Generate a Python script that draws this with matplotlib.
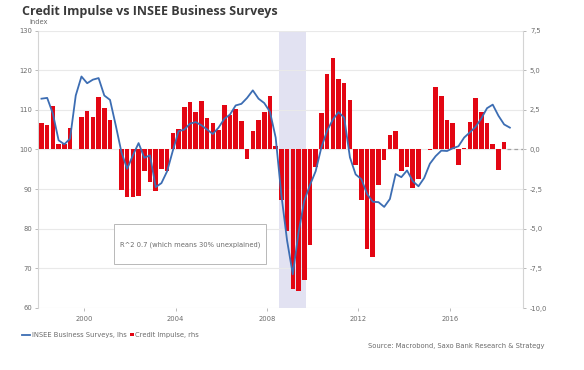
import numpy as np
import pandas as pd
import matplotlib
matplotlib.use("Agg")
import matplotlib.pyplot as plt
from matplotlib.lines import Line2D
from matplotlib.patches import Rectangle

# ---------------- data ----------------
bar_start = "1998Q1"
credit_impulse = [
    1.68, 1.52, 2.72, 0.32, 0.32, 1.37, 0.03, 2.04, 2.42, 2.02, 3.31, 2.59, 1.83, 0.05,
    -2.55, -3.01, -3.01, -2.95, -1.39, -2.06, -2.65, -1.26, -1.33,
    1.05, 1.31, 2.67, 3.01, 2.38, 3.03, 1.98, 1.66, 1.20, 2.82, 2.15, 2.55, 1.77,
    -0.61,
    1.14, 1.83, 2.36, 3.39, 0.23,
    -3.22, -5.16, -8.78, -8.90, -8.21, -6.04, -1.10,
    2.29, 4.78, 5.79, 4.46, 4.19, 3.14,
    -1.01, -3.20, -6.27, -6.80, -2.23, -0.65,
    0.92, 1.16,
    -1.35, -1.12, -2.42, -1.85,
    0.00, -0.05,
    3.94, 3.35, 1.83, 1.66,
    -0.96, 0.10,
    1.73, 3.24, 2.36, 1.66, 0.32,
    -1.28, 0.50,
]
insee = [
    112.8, 113.0, 109.0, 102.3, 101.3, 102.7, 113.6, 118.4, 116.7, 117.6,
    118.0, 113.6, 112.5, 106.1, 99.3, 95.1, 98.5, 101.6, 97.9, 98.5,
    90.5, 91.5, 94.5, 99.7, 104.6, 105.0, 106.5, 106.9, 106.1, 105.0,
    103.9, 105.5, 107.7, 108.8, 111.1, 111.5, 113.0, 114.9, 112.8, 111.7,
    109.5, 103.0, 88.5, 77.0, 68.5, 79.0, 87.0, 91.0, 94.5, 100.5,
    104.7, 107.5, 109.4, 108.0, 98.0, 93.7, 92.5, 88.8, 86.8, 86.7,
    85.5, 87.5, 93.8, 93.0, 94.7, 92.0, 90.7, 92.8, 96.4, 98.3,
    99.7, 99.6, 100.3, 100.8, 103.0, 104.3, 105.7, 107.8, 110.4, 111.3,
    108.5, 106.3, 105.5,
]
recession = (2008.5, 2009.72)
x_ticks = [2000, 2004, 2008, 2012, 2016]
lhs_ticks = [60, 70, 80, 90, 100, 110, 120, 130]
rhs_ticks = [-10.0, -7.5, -5.0, -2.5, 0.0, 2.5, 5.0, 7.5]

title = "Credit Impulse vs INSEE Business Surveys"
note = "R^2 0.7 (which means 30% unexplained)"
source = "Source: Macrobond, Saxo Bank Research & Strategy"
leg_line = "INSEE Business Surveys, lhs"
leg_bar = "Credit Impulse, rhs"


def mid_quarter_years(start, n):
    p = pd.period_range(start, periods=n, freq="Q")
    return p.year + (p.quarter - 1) * 0.25 + 0.125


x_bar = mid_quarter_years(bar_start, len(credit_impulse))
x_line = mid_quarter_years(bar_start, len(insee))

# ---------------- style ----------------
W, H = 584, 370
RED = "#e30613"
BLUE = "#3c6db3"
GRID = "#e9e9e9"
AXC = "#d4d4d4"
TXT = "#6b6b6b"
SHADE = "#e2e2f2"

fig = plt.figure(figsize=(W / 100, H / 100), dpi=100)
fig.patch.set_facecolor("white")

def fx(px):
    return px / W

def fy(py):
    return 1 - py / H

L, R, T, B = 37.7, 523.0, 30.5, 308.0
ax = fig.add_axes([fx(L), fy(B), fx(R) - fx(L), fy(T) - fy(B)])
ax2 = ax.twinx()

xmin, xmax = 1997.96, 2019.2
ax.set_xlim(xmin, xmax)
ax.set_ylim(60, 130)
ax2.set_ylim(-10, 7.5)

# shading
ax.axvspan(recession[0], recession[1], color=SHADE, lw=0, zorder=0)

# grid
for v in lhs_ticks:
    ax.axhline(v, color=GRID, lw=0.8, zorder=0.5)

# bars on rhs
ax2.bar(x_bar, credit_impulse, width=0.2, color=RED, lw=0, zorder=2)
ax2.plot([x_bar[-1] + 0.13, xmax], [0, 0], color="#a0a0a0", lw=0.9,
         ls=(0, (3, 2.5)), zorder=2)

# lhs series drawn on the rhs axes (lhs 60..130 maps to rhs -10..7.5)
lhs_to_rhs = lambda v: (np.asarray(v) - 100.0) / 4.0
ax2.plot(x_line, lhs_to_rhs(insee), color=BLUE, lw=1.3, zorder=3,
         solid_joinstyle="round")

# axes styling
for a in (ax, ax2):
    for s in a.spines.values():
        s.set_visible(False)
ax.spines["left"].set_visible(True)
ax.spines["left"].set_color(AXC)
ax.spines["left"].set_linewidth(0.8)
ax2.spines["right"].set_visible(True)
ax2.spines["right"].set_color(AXC)
ax2.spines["right"].set_linewidth(0.8)

ax.set_yticks(lhs_ticks)
ax.set_yticklabels([str(v) for v in lhs_ticks])
ax2.set_yticks(rhs_ticks)
ax2.set_yticklabels([f"{v:.1f}".replace(".", ",") for v in rhs_ticks])
ax.set_xticks(x_ticks)
ax.set_xticklabels([str(v) for v in x_ticks])

ax.tick_params(axis="y", length=2.5, width=0.6, color="#b0b0b0", pad=1.5,
               labelsize=4.9, labelcolor=TXT)
ax2.tick_params(axis="y", length=2.5, width=0.6, color="#b0b0b0", pad=2.5,
                labelsize=4.9, labelcolor=TXT)
ax.tick_params(axis="x", length=2.5, width=0.6, color="#b0b0b0", pad=3.5,
               labelsize=4.9, labelcolor=TXT)
ax.set_zorder(ax2.get_zorder() - 1)
ax.patch.set_visible(True)
ax.patch.set_facecolor("white")
ax2.patch.set_visible(False)

# title etc.
fig.text(fx(21.7), fy(14.5), title, fontsize=9.0, fontweight="bold",
         family="Open Sans", color="#3a3a3a", va="baseline", ha="left")
fig.text(fx(29.3), fy(21.5), "Index", fontsize=4.9, color=TXT,
         va="center", ha="left")

# note box
fig.add_artist(Rectangle((fx(114.3), fy(264.3)), fx(265.7) - fx(114.3),
                         fy(224) - fy(264.3), transform=fig.transFigure,
                         facecolor="white", edgecolor="#b8b8b8", lw=0.7,
                         zorder=5))
fig.text(fx(190), fy(245), note, fontsize=4.9, color=TXT, ha="center",
         va="center", zorder=6)

# legend
fig.add_artist(Line2D([fx(22), fx(30)], [fy(334.5), fy(334.5)],
                      transform=fig.transFigure, color=BLUE, lw=1.3))
fig.text(fx(31.5), fy(334.5), leg_line, fontsize=4.9, color=TXT,
         va="center", ha="left")
fig.add_artist(Rectangle((fx(130), fy(336.3)), fx(3.6), fy(0) - fy(3.6),
                         transform=fig.transFigure, facecolor=RED, lw=0))
fig.text(fx(135), fy(334.5), leg_bar, fontsize=4.9, color=TXT,
         va="center", ha="left")

fig.text(fx(544), fy(346), source, fontsize=4.9, color=TXT,
         va="center", ha="right")

fig.savefig("out.png", dpi=100, facecolor="white")
